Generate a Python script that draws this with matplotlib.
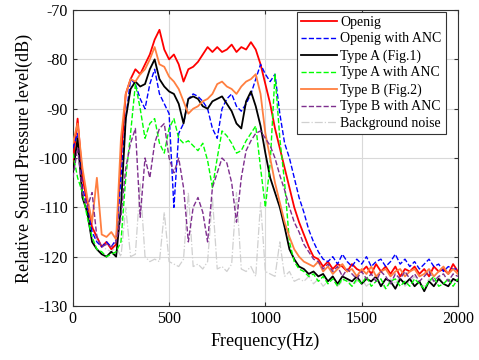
import numpy as np
import matplotlib
matplotlib.use('Agg')
import matplotlib.pyplot as plt

plt.rcParams['font.family'] = ['Liberation Serif', 'DejaVu Serif']
plt.rcParams['axes.unicode_minus'] = False

# frequency grid, 25 Hz steps (0..2000)
freq = np.arange(0, 2001, 25)

# levels (dB), rows of 10 points = 250 Hz
openig = [
    -101, -92, -104, -109, -114, -116, -118, -117, -118.5, -117.5,
    -100, -87, -84, -82, -83, -81, -79, -76, -74, -78,
    -80, -79, -81, -84.5, -82, -81.5, -80.5, -79, -77.5, -78.5,
    -77.5, -78.5, -78, -77, -78.5, -77.5, -78, -76.5, -78, -81,
    -85, -89, -94, -98, -102, -106, -110, -113, -115.5, -118,
    -120, -120.5, -122, -121, -122.5, -121.5, -122, -123, -121.5, -122.5,
    -123, -122, -123.5, -121.5, -123, -122, -123.5, -122, -124, -122.5,
    -123, -122, -123.5, -122.5, -124, -122, -123, -122.5, -123.5, -121.5,
    -123]
openig_anc = [
    -98, -95, -106, -110, -115, -117, -118, -117, -118, -116.5,
    -104, -92, -84, -85, -88, -90, -85, -82, -87, -89,
    -91, -110, -95, -93, -88, -87, -87.5, -88.5, -90, -94,
    -96, -90, -88, -87, -89.5, -90.5, -89, -87, -84, -81,
    -83, -84.5, -83, -91, -97, -100, -104, -108, -111, -114.5,
    -117, -119, -120.5, -121, -120, -121.5, -119.5, -121, -122, -120.5,
    -121.5, -120, -122, -121, -120.5, -122, -121, -119.5, -121.5, -120.5,
    -122, -121, -122.5, -121.5, -120.5, -122, -121.5, -123, -122, -122.5,
    -122.5]
type_a = [
    -103, -96, -108, -111, -117, -118.5, -119.5, -120, -119, -120,
    -110, -92, -86, -84.5, -85.5, -85, -82, -80, -84, -85.5,
    -86.5, -87, -89, -93, -88, -87.5, -88, -89.5, -90, -88.5,
    -88, -87.5, -89, -90.5, -93, -94, -88.5, -86.5, -89.5, -93.5,
    -99, -104, -107, -110, -114, -118.5, -120.5, -122, -122.5, -123.5,
    -123, -124, -123.5, -125, -124, -125.5, -124, -124.5, -125, -124,
    -125.5, -124.5, -125, -124, -126, -124.5, -125, -126.5, -124.5, -125.5,
    -124.5, -126, -125, -127, -125, -126, -124.5, -125.5, -126, -124.5,
    -125]
type_a_anc = [
    -99, -104, -107, -112, -116, -118.5, -119, -120, -119.5, -119,
    -117, -104, -95, -85, -90, -96, -93, -92, -97, -99,
    -94, -92, -96, -97, -96.5, -97.5, -98.5, -97, -100.5, -106,
    -100, -94.5, -95.5, -97, -99, -98.5, -96.5, -95, -93.5, -102,
    -110, -101, -83, -96, -105, -117, -121, -122.5, -123, -124,
    -123.5, -125, -124, -125.5, -124.5, -126, -124.5, -125, -126, -124.5,
    -125.5, -124, -126, -125, -124.5, -126.5, -125, -124.5, -126, -125,
    -126, -124.5, -125.5, -126.5, -125, -124, -126, -125.5, -124.5, -126,
    -124.5]
type_b = [
    -97, -93, -102, -108, -113, -104, -115.5, -116, -115, -116.5,
    -96, -87, -84, -84.5, -83, -82, -80, -77.5, -81, -81.5,
    -83.5, -84.5, -86, -88.5, -91, -90, -89.5, -88.5, -88, -87,
    -85, -84.5, -85.5, -86, -87, -85.5, -84.5, -84, -83, -87,
    -95, -100, -105, -109, -113, -116, -118.5, -120, -121, -121.5,
    -122, -121, -123, -122, -123.5, -122.5, -121.5, -123, -122.5, -124,
    -122.5, -123.5, -122, -124, -123, -122.5, -124, -123, -122.5, -124,
    -123, -122.5, -124, -123.5, -122.5, -124, -123, -122, -123.5, -122.5,
    -123.5]
type_b_anc = [
    -104, -98, -107, -110, -107, -116, -118, -117.5, -118, -117,
    -112, -102, -97, -94, -112, -100, -104, -97, -94, -93,
    -100, -103, -100, -106, -117, -110, -108, -111, -117, -106,
    -103, -100, -101, -105, -113, -104, -98.5, -96.5, -95, -94.5,
    -96, -97.5, -100, -103.5, -106.5, -110, -113, -115, -117.5, -119,
    -120.5, -121, -122.5, -121.5, -123, -122, -124, -122.5, -123.5, -124.5,
    -123, -124.5, -123.5, -125, -123, -124, -125.5, -123.5, -124.5, -123,
    -124.5, -123.5, -125, -124, -123, -125, -124, -123.5, -125, -123.5,
    -124]
background = [
    -102, -95, -103, -108, -113, -117, -118, -118.5, -119, -118,
    -120, -110, -120, -119.5, -105, -120, -121, -120.5, -121, -111,
    -121, -121.5, -122, -120.5, -107, -122, -121.5, -122.5, -121, -108,
    -122.5, -122, -123, -121.5, -107, -122.5, -123, -122, -124, -109,
    -123, -123.5, -124, -117, -124, -123, -125, -124.5, -125, -124,
    -125.5, -124.5, -126, -125, -124, -126, -125, -124.5, -126, -125,
    -124.5, -126, -125, -124, -125.5, -126.5, -124.5, -125.5, -124, -126,
    -125, -124, -125.5, -126, -124.5, -125, -124, -125.5, -124.5, -125,
    -124.5]

labels = ['Openig', 'Openig with ANC', 'Type A (Fig.1)', 'Type A with ANC',
          'Type B (Fig.2)', 'Type B with ANC', 'Background noise']

fig = plt.figure(figsize=(4.79, 3.6), dpi=100)
ax = fig.add_axes([0.152, 0.15, 0.804, 0.822])

ax.plot(freq, background, color='#D0D0D0', ls='-.', lw=0.9, zorder=2, label=labels[6])
ax.plot(freq, openig, color='#FF0000', ls='-', lw=1.3, zorder=3, label=labels[0])
ax.plot(freq, openig_anc, color='#0000FF', ls='--', lw=1.0, zorder=3, label=labels[1])
ax.plot(freq, type_a, color='#000000', ls='-', lw=1.3, zorder=3, label=labels[2])
ax.plot(freq, type_a_anc, color='#00FF00', ls='--', lw=1.0, zorder=3, label=labels[3])
ax.plot(freq, type_b, color='#FF7F40', ls='-', lw=1.3, zorder=3, label=labels[4])
ax.plot(freq, type_b_anc, color='#7E2F8E', ls='--', lw=1.0, zorder=3, label=labels[5])

ax.set_xlim(0, 2000)
ax.set_ylim(-130, -70)
ax.set_xticks([0, 500, 1000, 1500, 2000])
ax.set_yticks(np.arange(-130, -69, 10))
ax.grid(True, color='#D9D9D9', lw=0.8)
ax.set_axisbelow(True)
ax.tick_params(direction='in', top=True, right=True, labelsize=11.5, length=3, color='#333333')
for s in ax.spines.values():
    s.set_color('#333333')
    s.set_linewidth(0.8)

ax.set_xlabel('Frequency(Hz)', fontsize=13)
ax.set_ylabel('Relative Sound Pressure level(dB)', fontsize=13)

h, l = ax.get_legend_handles_labels()
order = [1, 2, 3, 4, 5, 6, 0]
leg = ax.legend([h[i] for i in order], [l[i] for i in order],
                loc='upper right', bbox_to_anchor=(0.968, 0.995), borderaxespad=0,
                fontsize=10, handlelength=2.6, handletextpad=0.2, labelspacing=0.27,
                borderpad=0.3, fancybox=False, framealpha=1, edgecolor='#333333')
leg.get_frame().set_linewidth(0.8)

fig.savefig('out.png', dpi=100)
